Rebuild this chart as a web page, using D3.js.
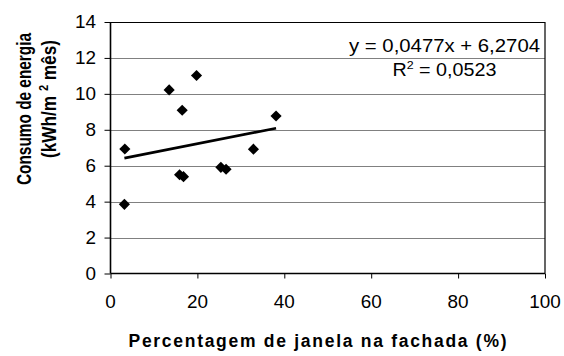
<!DOCTYPE html>
<html>
<head>
<meta charset="utf-8">
<script src="https://cdn.jsdelivr.net/npm/d3@7"></script>
<style>
  html, body { margin: 0; padding: 0; background: #fff; }
  svg { display: block; font-family: "Liberation Sans", Arial, sans-serif; }
</style>
</head>
<body>
<div id="chart"></div>
<script>
// ---- data ----
const xValues = [3.3, 13.5, 19.8, 16.5, 38.1, 32.9, 25.4, 26.6, 15.9, 16.8, 3.2];
const yValues = [6.93, 10.22, 11.02, 9.09, 8.77, 6.92, 5.91, 5.80, 5.50, 5.39, 3.85];
const xTicks = [0, 20, 40, 60, 80, 100];
const yTicks = [0, 2, 4, 6, 8, 10, 12, 14];
const trendSlope = 0.0477;
const trendIntercept = 6.2704;
const equationText = "y = 0,0477x + 6,2704";
const r2Value = "0,0523";
const xTitle = "Percentagem de janela na fachada (%)";
const yTitle1 = "Consumo de energia";
const yTitle2a = "(kWh/m ";
const yTitle2sup = "2";
const yTitle2b = " mês)";

// ---- layout ----
const W = 564, H = 356;
const plot = { left: 110.5, right: 545, top: 22, bottom: 273.5 };

const svg = d3.select("#chart").append("svg")
  .attr("width", W).attr("height", H);

const x = d3.scaleLinear().domain([0, 100]).range([plot.left, plot.right]);
const y = d3.scaleLinear().domain([0, 14]).range([plot.bottom, plot.top]);

// gridlines
svg.append("g").selectAll("line")
  .data(yTicks.filter(d => d > 0 && d < 14))
  .join("line")
  .attr("x1", plot.left).attr("x2", plot.right)
  .attr("y1", d => Math.round(y(d)) + 0.5).attr("y2", d => Math.round(y(d)) + 0.5)
  .attr("stroke", "#808080").attr("stroke-width", 1);

// plot frame top and right
svg.append("path")
  .attr("d", `M${plot.left},${plot.top + 0.5}H${plot.right}V${plot.bottom}`)
  .attr("fill", "none").attr("stroke", "#000").attr("stroke-width", 1.2);

// axes
const yAxis = d3.axisLeft(y).tickValues(yTicks).tickSize(6).tickFormat("");
const xAxis = d3.axisBottom(x).tickValues(xTicks).tickSize(5).tickFormat("");
const gy = svg.append("g").attr("transform", `translate(${plot.left},0)`).call(yAxis);
const gx = svg.append("g").attr("transform", `translate(0,${plot.bottom})`).call(xAxis);
[gx, gy].forEach(g => {
  g.select(".domain").attr("stroke", "#000").attr("stroke-width", 1.6);
  g.selectAll(".tick line").attr("stroke", "#000").attr("stroke-width", 1);
});
gx.select(".domain").attr("d", `M${plot.left},0H${plot.right}`);
gy.select(".domain").attr("d", `M0,${plot.bottom}V${plot.top}`);

// stretched text helper
function stext(parent, tx, ty, str, opts) {
  const g = parent.append("g").attr("transform", `translate(${tx},${ty}) scale(${opts.sx || 1},1)`);
  return g.append("text")
    .attr("text-anchor", opts.anchor || "start")
    .attr("font-size", opts.size)
    .attr("font-weight", opts.weight || "normal")
    .attr("fill", "#000")
    .attr("dy", opts.dy || 0)
    .text(str);
}

// tick labels
yTicks.forEach(d => stext(svg, 96, y(d), d3.format("d")(d), { anchor: "end", size: 17.5, sx: 1.08, dy: "0.35em" }));
xTicks.forEach(d => stext(svg, x(d), 308, d3.format("d")(d), { anchor: "middle", size: 17.5, sx: 1.08 }));

// trendline
const xr = d3.extent(xValues);
svg.append("line")
  .attr("x1", x(xr[0])).attr("y1", y(trendSlope * xr[0] + trendIntercept))
  .attr("x2", x(xr[1])).attr("y2", y(trendSlope * xr[1] + trendIntercept))
  .attr("stroke", "#000").attr("stroke-width", 2.6);

// markers (diamonds)
const diamond = d3.symbol().type(d3.symbolSquare).size(62);
svg.append("g").selectAll("path")
  .data(xValues.map((v, i) => [v, yValues[i]]))
  .join("path")
  .attr("d", diamond)
  .attr("transform", d => `translate(${x(d[0])},${y(d[1])}) rotate(45)`)
  .attr("fill", "#000");

// equation labels
const eqCx = 444.5;
svg.append("text")
  .attr("x", eqCx).attr("y", 52).attr("text-anchor", "middle")
  .attr("font-size", 17.5)
  .attr("textLength", 191).attr("lengthAdjust", "spacingAndGlyphs")
  .text(equationText);
const r2 = svg.append("text")
  .attr("x", eqCx).attr("y", 75.5).attr("text-anchor", "middle")
  .attr("font-size", 17.5)
  .attr("textLength", 104).attr("lengthAdjust", "spacingAndGlyphs");
r2.append("tspan").text("R");
r2.append("tspan").attr("font-size", 11).attr("dy", -7).text("2");
r2.append("tspan").attr("dy", 7).text(" = " + r2Value);

// x title
svg.append("text")
  .attr("x", 317.5).attr("y", 347).attr("text-anchor", "middle")
  .attr("font-size", 17.5).attr("font-weight", "bold")
  .attr("textLength", 378).attr("lengthAdjust", "spacing")
  .text(xTitle);

// y title (two lines, rotated)
const yt1 = svg.append("g").attr("transform", `translate(31,109) rotate(-90) scale(1,1.35)`);
yt1.append("text").attr("text-anchor", "middle").attr("font-size", 15.5).attr("font-weight", "bold")
  .attr("textLength", 152).attr("lengthAdjust", "spacingAndGlyphs").text(yTitle1);
const yt2 = svg.append("g").attr("transform", `translate(56,99) rotate(-90) scale(1,1.35)`);
const t2 = yt2.append("text").attr("text-anchor", "middle").attr("font-size", 15.5).attr("font-weight", "bold")
  .attr("textLength", 118).attr("lengthAdjust", "spacingAndGlyphs");
t2.append("tspan").text(yTitle2a);
t2.append("tspan").attr("font-size", 10).attr("dy", -6).text(yTitle2sup);
t2.append("tspan").attr("dy", 6).text(yTitle2b);
</script>
</body>
</html>
